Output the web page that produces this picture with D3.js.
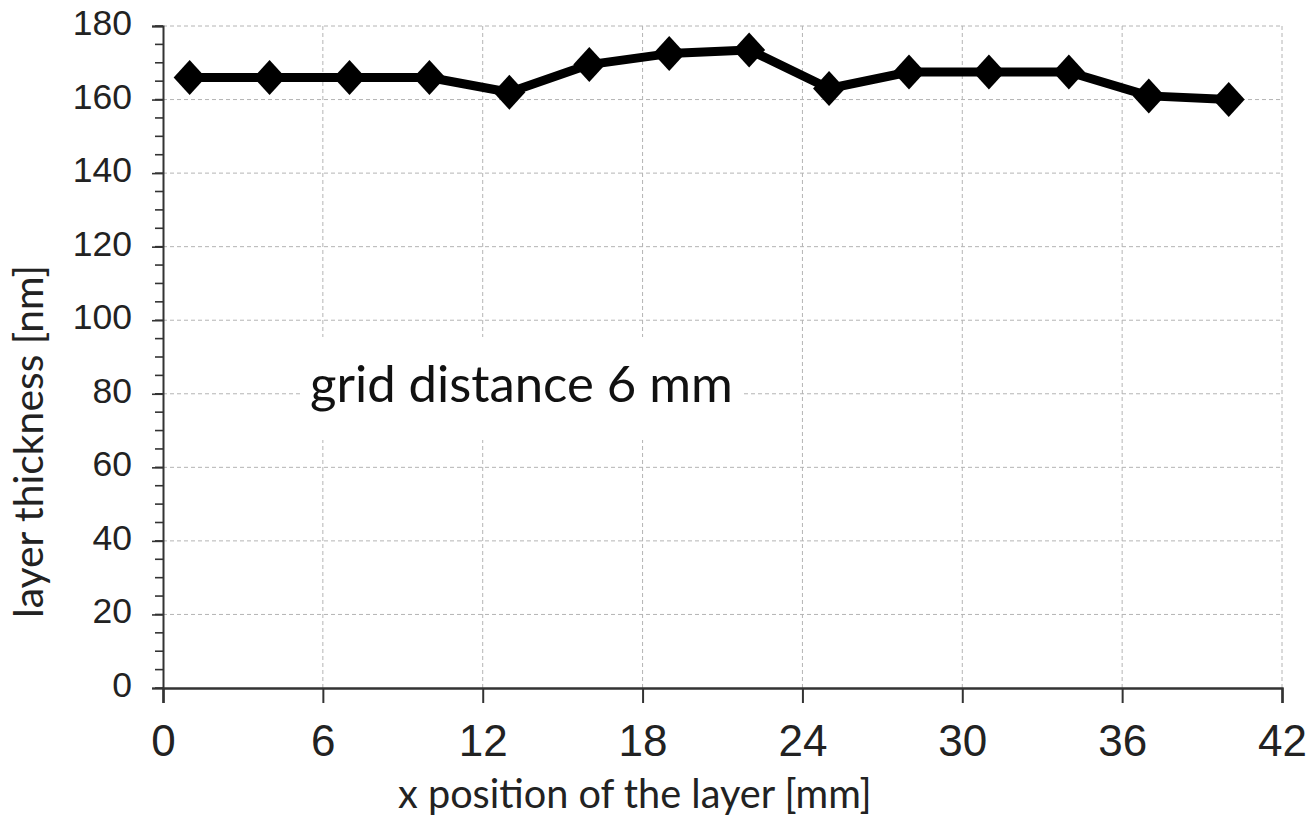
<!DOCTYPE html>
<html>
<head>
<meta charset="utf-8">
<script src="https://cdn.jsdelivr.net/npm/d3@7"></script>
<style>
  html, body { margin: 0; padding: 0; background: #fff; }
  svg { display: block; }
</style>
</head>
<body>
<div id="chart"></div>
<script>
// data
const xPositions = [1, 4, 7, 10, 13, 16, 19, 22, 25, 28, 31, 34, 37, 40];
const thickness = [166, 166, 166, 166, 162, 169.5, 172.5, 173.5, 163, 167.5, 167.5, 167.5, 161, 160];
const xTicks = [0, 6, 12, 18, 24, 30, 36, 42];
const yTicks = [0, 20, 40, 60, 80, 100, 120, 140, 160, 180];
const yMinorTicks = d3.range(0, 181, 5);
const xTitle = "x position of the layer [mm]";
const yTitle = "layer thickness [nm]";
const note = "grid distance 6 mm";

const W = 1312, H = 821;
const margin = {top: 26, right: 30, bottom: 133, left: 163};
const width = W - margin.left - margin.right,
      height = H - margin.top - margin.bottom;

const svg = d3.select("#chart")
    .append("svg")
    .attr("width", W)
    .attr("height", H);

const g = svg.append("g")
    .attr("transform", "translate(" + margin.left + "," + margin.top + ")");

const x = d3.scaleLinear().domain([0, 42]).range([0, width]);
const y = d3.scaleLinear().domain([0, 180]).range([height, 0]);

const gridColor = "#b4b4b4";

// dashed grid
g.selectAll(".vgrid")
    .data(xTicks.filter(d => d > 0))
    .enter().append("line")
    .attr("x1", d => x(d)).attr("x2", d => x(d))
    .attr("y1", 0).attr("y2", height)
    .style("stroke", gridColor)
    .style("stroke-width", 1)
    .style("stroke-dasharray", "4,3");

g.selectAll(".hgrid")
    .data(yTicks.filter(d => d > 0))
    .enter().append("line")
    .attr("x1", 0).attr("x2", width)
    .attr("y1", d => y(d)).attr("y2", d => y(d))
    .style("stroke", gridColor)
    .style("stroke-width", 1)
    .style("stroke-dasharray", "4,3");

// note box hides the grid behind it
const noteBox = g.append("rect")
    .attr("fill", "#fff");
const noteText = g.append("text")
    .attr("x", 310 - margin.left)
    .attr("y", 402 - margin.top)
    .style("font-family", "Lato, 'Open Sans', sans-serif")
    .style("fill", "#111")
    .text(note);
fitText(noteText, 423, 30, 60);
noteBox.attr("x", 303 - margin.left).attr("y", 337 - margin.top)
    .attr("width", 440).attr("height", 103);

// minor y ticks
g.selectAll(".ytick-minor")
    .data(yMinorTicks)
    .enter().append("line")
    .attr("x1", -8).attr("x2", 0)
    .attr("y1", d => y(d)).attr("y2", d => y(d))
    .style("stroke", "#333")
    .style("stroke-width", 1.6);

// y axis
const yAxis = g.append("g")
    .call(d3.axisLeft(y).tickValues(yTicks).tickSize(11).tickPadding(20));
yAxis.select(".domain").style("stroke", "#333").style("stroke-width", 2);
yAxis.selectAll(".tick line").style("stroke", "#333").style("stroke-width", 1.6);
yAxis.selectAll(".tick text")
    .style("font-family", "'Liberation Sans', Arial, sans-serif")
    .style("font-size", "35.5px")
    .style("fill", "#222")
    .attr("dy", "0.24em");

// x axis
const xAxis = g.append("g")
    .attr("transform", "translate(0," + height + ")")
    .call(d3.axisBottom(x).tickValues(xTicks).tickSize(15).tickPadding(22));
xAxis.select(".domain").style("stroke", "#333").style("stroke-width", 2.4);
xAxis.selectAll(".tick line").style("stroke", "#333").style("stroke-width", 2);
xAxis.selectAll(".tick text")
    .style("font-family", "'Liberation Sans', Arial, sans-serif")
    .style("font-size", "44px")
    .style("fill", "#222")
    .attr("dy", "0.71em");

// axis titles
const xt = svg.append("text")
    .attr("x", 398)
    .attr("y", 808)
    .style("font-family", "Lato, 'Open Sans', sans-serif")
    .style("fill", "#222")
    .text(xTitle);
fitText(xt, 474, 24, 50);

const yt = svg.append("text")
    .attr("transform", "translate(43,618) rotate(-90)")
    .style("font-family", "Lato, 'Open Sans', sans-serif")
    .style("fill", "#222")
    .text(yTitle);
fitText(yt, 353, 24, 50);

// line and markers
const line = d3.line()
    .x((d, i) => x(xPositions[i]))
    .y(d => y(d));

g.append("path")
    .attr("d", line(thickness))
    .style("fill", "none")
    .style("stroke", "#000")
    .style("stroke-width", 9)
    .style("stroke-linejoin", "round");

const diamond = {
    draw(context, size) {
        const hw = 16, hh = 17.5;
        context.moveTo(0, -hh);
        context.lineTo(hw, 0);
        context.lineTo(0, hh);
        context.lineTo(-hw, 0);
        context.closePath();
    }
};

g.selectAll(".marker")
    .data(thickness)
    .enter().append("path")
    .attr("d", d3.symbol().type(diamond))
    .attr("transform", (d, i) => "translate(" + x(xPositions[i]) + "," + y(d) + ")")
    .style("fill", "#000");

// pick a font size so the text spans the wanted width
function fitText(sel, target, lo, hi) {
    for (let k = 0; k < 20; k++) {
        const mid = (lo + hi) / 2;
        sel.style("font-size", mid + "px");
        if (sel.node().getComputedTextLength() > target) hi = mid; else lo = mid;
    }
    sel.style("font-size", lo + "px");
}
</script>
</body>
</html>
